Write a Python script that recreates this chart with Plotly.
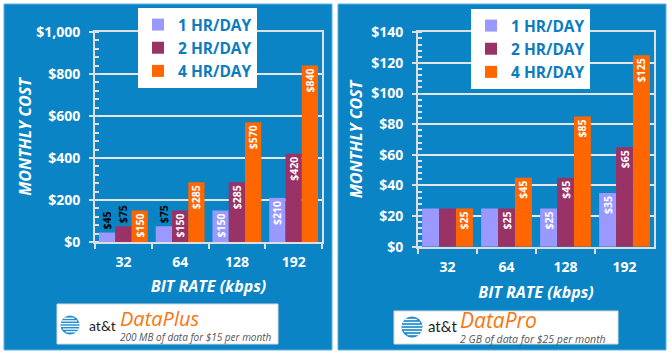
import math
import plotly.graph_objects as go

# ---------------- data ----------------
categories = ["32", "64", "128", "192"]
series_names = ["1 HR/DAY", "2 HR/DAY", "4 HR/DAY"]

plus_1hr = [45, 75, 150, 210]
plus_2hr = [75, 150, 285, 420]
plus_4hr = [150, 285, 570, 840]

pro_1hr = [25, 25, 25, 35]
pro_2hr = [25, 25, 45, 65]
pro_4hr = [25, 45, 85, 125]

# which value labels are shown in the reference (DataPro panel hides some)
pro_1hr_show = [False, False, True, True]
pro_2hr_show = [False, True, True, True]
pro_4hr_show = [True, True, True, True]

plus_1hr_pos = ["outside", "outside", "inside", "inside"]
plus_2hr_pos = ["outside", "inside", "inside", "inside"]
plus_4hr_pos = ["inside", "inside", "inside", "inside"]

colors = ["#9999ff", "#993366", "#ff6600"]

W, H = 670, 355
BLUE = "#0b84c6"
LEG_BLUE = "#0b7cc0"
FONT = "Open Sans"


def PX(x):
    return x / W


def PY(y):
    return 1 - y / H


def labels(vals, show=None):
    out = []
    for i, v in enumerate(vals):
        if show is None or show[i]:
            out.append(f"${v}")
        else:
            out.append("")
    return out


fig = go.Figure()


def add_bar(vals, name, color, xa, ya, legend, text, pos):
    fig.add_trace(go.Bar(
        x=categories, y=vals, name=name, marker=dict(color=color, line=dict(width=0)),
        xaxis=xa, yaxis=ya, legend=legend,
        text=text, textposition=pos, textangle=-90,
        insidetextanchor="end",
        insidetextfont=dict(family=FONT, size=10.5, color="white", weight="bold"),
        outsidetextfont=dict(family=FONT, size=10.5, color="black", weight="bold"),
        cliponaxis=False, constraintext="none", hoverinfo="x+y+name",
    ))


add_bar(plus_1hr, series_names[0], colors[0], "x", "y", "legend", labels(plus_1hr), plus_1hr_pos)
add_bar(plus_2hr, series_names[1], colors[1], "x", "y", "legend", labels(plus_2hr), plus_2hr_pos)
add_bar(plus_4hr, series_names[2], colors[2], "x", "y", "legend", labels(plus_4hr), plus_4hr_pos)

add_bar(pro_1hr, series_names[0], colors[0], "x2", "y2", "legend2", labels(pro_1hr, pro_1hr_show), "inside")
add_bar(pro_2hr, series_names[1], colors[1], "x2", "y2", "legend2", labels(pro_2hr, pro_2hr_show), "inside")
add_bar(pro_4hr, series_names[2], colors[2], "x2", "y2", "legend2", labels(pro_4hr, pro_4hr_show), "inside")

tickfont = dict(family=FONT, size=14, color="white", weight="bold")
titlefont = dict(family=FONT, size=16, color="white", weight="bold", style="italic")

common_x = dict(
    type="category", showgrid=False, showline=True, mirror=True, linecolor="#dedede", linewidth=2,
    ticks="outside", tickson="boundaries", ticklen=5, tickcolor="#dedede", tickwidth=1.5,
    tickfont=tickfont, ticklabelstandoff=6, automargin=False,
)
common_y = dict(
    showgrid=True, gridcolor="#e6e6e6", gridwidth=1.5, zeroline=False,
    showline=True, mirror=True, linecolor="#dedede", linewidth=2,
    ticks="outside", ticklen=4, tickcolor="#dedede", tickwidth=1.5,
    tickfont=tickfont, ticklabelstandoff=6, automargin=False,
)

fig.update_layout(
    width=W, height=H, autosize=False,
    margin=dict(l=0, r=0, t=0, b=0, pad=0),
    paper_bgcolor="white", plot_bgcolor="#c0c0c0",
    barmode="group", bargap=0.14, bargroupgap=0,
    showlegend=True,
    xaxis=dict(common_x, domain=[PX(95), PX(322)], anchor="y",
               title=dict(text="BIT RATE (kbps)", font=titlefont, standoff=11)),
    yaxis=dict(common_y, domain=[PY(242), PY(32)], anchor="x", range=[0, 1000], dtick=200,
               tickprefix="$", tickformat=",d",
               minor=dict(ticks="inside", ticklen=4, dtick=40, tickcolor="#e0e0e0", showgrid=False),
               title=dict(text="MONTHLY COST", font=titlefont, standoff=1)),
    xaxis2=dict(common_x, domain=[PX(418), PX(654)], anchor="y2",
                title=dict(text="BIT RATE (kbps)", font=titlefont, standoff=12)),
    yaxis2=dict(common_y, domain=[PY(246.7), PY(32.3)], anchor="x2", range=[0, 140], dtick=20,
                tickprefix="$", tickformat=",d",
                minor=dict(ticks="inside", ticklen=4, dtick=4, tickcolor="#e0e0e0", showgrid=False),
                title=dict(text="MONTHLY COST", font=titlefont, standoff=5)),
    legend=dict(x=PX(138), y=PY(8), xanchor="left", yanchor="top", bgcolor="white",
                borderwidth=0, font=dict(family=FONT, size=15.5, color=LEG_BLUE, weight="bold"),
                tracegroupgap=0, itemwidth=30),
    legend2=dict(x=PX(471), y=PY(9), xanchor="left", yanchor="top", bgcolor="white",
                 borderwidth=0, font=dict(family=FONT, size=15.5, color=LEG_BLUE, weight="bold"),
                 tracegroupgap=0, itemwidth=30),
)

shapes = []
# blue panels (drawn below everything)
for x0, x1 in [(4, 332), (338, 666)]:
    shapes.append(dict(type="rect", xref="paper", yref="paper", layer="below",
                       x0=PX(x0), x1=PX(x1), y0=PY(350), y1=PY(4),
                       fillcolor=BLUE, line=dict(width=1, color="#5fb0de")))

# logo boxes
boxes = [(57, 278, 304, 344), (394, 618, 311, 344)]
for x0, x1, y0, y1 in boxes:
    shapes.append(dict(type="rect", xref="paper", yref="paper",
                       x0=PX(x0), x1=PX(x1), y0=PY(y1), y1=PY(y0),
                       fillcolor="white", line=dict(width=1, color="#d8d8d8")))


def globe(cx, cy, r):
    out = [dict(type="circle", xref="paper", yref="paper",
                x0=PX(cx - r), x1=PX(cx + r), y0=PY(cy + r), y1=PY(cy - r),
                fillcolor="#1f8dd0", line=dict(width=0))]
    n = 7
    for k in range(1, n):
        dy = -r + 2 * r * k / n
        half = math.sqrt(max(r * r - dy * dy, 0))
        off = 0.35 * r * (dy / r)
        out.append(dict(type="line", xref="paper", yref="paper",
                        x0=PX(cx - half + max(off, 0)), x1=PX(cx + half + min(off, 0)),
                        y0=PY(cy + dy), y1=PY(cy + dy),
                        line=dict(color="white", width=1.3)))
    return out


shapes += globe(70, 325, 9.5)
shapes += globe(412, 327, 10.5)

fig.update_layout(shapes=shapes)

ann = []
ann.append(dict(text="at&t", x=PX(87), y=PY(325), xanchor="left", yanchor="middle",
                font=dict(family="Lato", size=14, color="#222")))
ann.append(dict(text="DataPlus", x=PX(118), y=PY(318), xanchor="left", yanchor="middle",
                font=dict(family=FONT, size=20, color="#f7760f", style="italic")))
ann.append(dict(text="200 MB of data for $15 per month", x=PX(118), y=PY(337), xanchor="left",
                yanchor="middle", font=dict(family=FONT, size=10, color="#555", style="italic")))
ann.append(dict(text="at&t", x=PX(426), y=PY(326), xanchor="left", yanchor="middle",
                font=dict(family="Lato", size=15, color="#222")))
ann.append(dict(text="DataPro", x=PX(458), y=PY(320), xanchor="left", yanchor="middle",
                font=dict(family=FONT, size=21, color="#f7760f", style="italic")))
ann.append(dict(text="2 GB of data for $25 per month", x=PX(458), y=PY(339), xanchor="left",
                yanchor="middle", font=dict(family=FONT, size=10.5, color="#555", style="italic")))
for a in ann:
    a.update(xref="paper", yref="paper", showarrow=False)
fig.update_layout(annotations=ann)

fig.write_html("out.html", config={"displayModeBar": False},
               post_script="document.body.style.margin='0';document.body.style.padding='0';")
